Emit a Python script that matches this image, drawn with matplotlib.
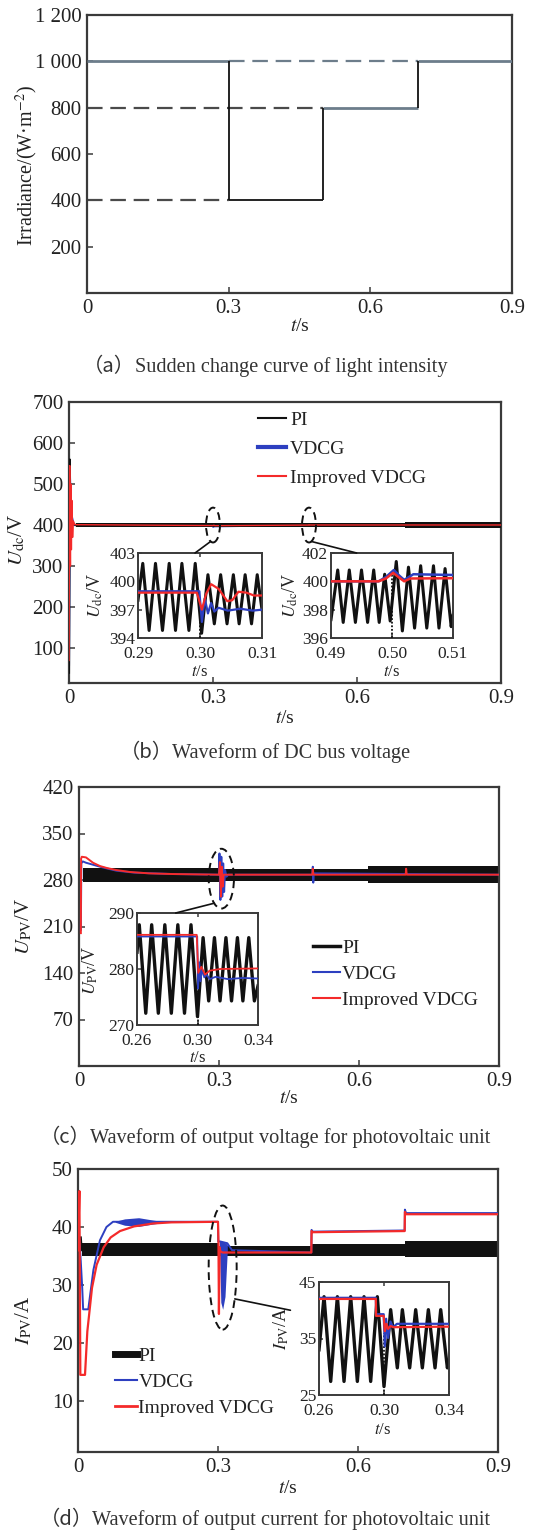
import matplotlib
matplotlib.use('Agg')
import matplotlib.pyplot as plt
from matplotlib.patches import Ellipse, ConnectionPatch
from matplotlib.lines import Line2D

plt.rcParams['font.family'] = ['Liberation Serif', 'Noto Sans CJK SC']
plt.rcParams['mathtext.fontset'] = 'stix'

# ---------------- data ----------------
# (a) irradiance steps
irr_times = [0.0, 0.3, 0.5, 0.7, 0.9]
irr_levels = [1000, 400, 800, 1000]
ref_levels = [1000, 800, 400]
ref_start = [0.3, 0.0, 0.0]
ref_end = [0.7, 0.5, 0.3]

# (b) DC bus voltage, main
b_pi_start_t = [0.0, 0.0015, 0.0025, 0.004, 0.006, 0.009, 0.014]
b_pi_start_v = [40, 560, 470, 430, 410, 403, 400]
b_pi_edges = [0.014, 0.6, 0.7, 0.9]
b_pi_lo = [395.5, 395.0, 393.0]
b_pi_hi = [404.5, 405.0, 407.0]
b_red_t = [0.0, 0.0015, 0.003, 0.004, 0.005, 0.006, 0.0075, 0.009, 0.012, 0.3, 0.3018, 0.304, 0.5, 0.5002, 0.503, 0.9]
b_red_v = [70, 545, 300, 500, 340, 460, 370, 410, 401, 398.8, 399.7, 398.5, 400.0, 400.6, 400.2, 400.2]
b_blue_t = [0.0, 0.002, 0.004, 0.006, 0.01, 0.3, 0.3003, 0.302, 0.5, 0.5003, 0.9]
b_blue_v = [60, 520, 380, 420, 400, 398.9, 395.7, 397.0, 400.0, 400.8, 400.45]

# (b) inset 1
b1_pi_t = [0.2900, 0.29077, 0.29179, 0.29282, 0.29395, 0.29503, 0.29605, 0.29708, 0.29821, 0.29923,
           0.30026, 0.30128, 0.30231, 0.30333, 0.30436, 0.30538, 0.30631, 0.30728, 0.30831, 0.30923, 0.3100]
b1_pi_v = [398.0, 401.9, 394.8, 401.9, 394.8, 401.9, 394.8, 401.9, 394.8, 401.9,
           394.5, 400.7, 395.5, 400.7, 395.5, 400.7, 395.5, 400.7, 395.5, 400.7, 397.0]
b1_red_t = [0.2900, 0.2995, 0.3003, 0.3010, 0.3018, 0.3030, 0.3044, 0.3052, 0.3062, 0.3075, 0.3087, 0.3100]
b1_red_v = [398.8, 398.8, 397.0, 398.7, 399.7, 399.2, 397.9, 398.0, 398.9, 398.8, 398.5, 398.5]
b1_blue_t = [0.2900, 0.2999, 0.3003, 0.30077, 0.30128, 0.30179, 0.30231, 0.3030, 0.3045, 0.3065, 0.3085, 0.3100]
b1_blue_v = [398.95, 398.95, 395.7, 398.2, 396.6, 397.7, 396.8, 397.2, 396.9, 397.1, 396.9, 397.0]

# (b) inset 2
b2_pi_t = [0.4900, 0.4911, 0.4920, 0.4930, 0.4940, 0.4950, 0.4960, 0.4970, 0.4979, 0.4988, 0.4997,
           0.5007, 0.5017, 0.5027, 0.5037, 0.5047, 0.5057, 0.5068, 0.5077, 0.5087, 0.5097, 0.5100]
b2_pi_v = [397.3, 400.8, 397.1, 400.8, 397.1, 400.8, 397.1, 400.8, 397.1, 400.5, 397.2,
           401.4, 396.5, 401.0, 396.7, 401.1, 396.7, 401.1, 396.7, 400.9, 396.8, 397.6]
b2_red_t = [0.49, 0.4978, 0.4990, 0.5002, 0.5012, 0.5020, 0.5030, 0.51]
b2_red_v = [400.0, 400.0, 400.2, 400.6, 400.25, 400.0, 400.2, 400.22]
b2_blue_t = [0.49, 0.4978, 0.4990, 0.5003, 0.5012, 0.5020, 0.5035, 0.51]
b2_blue_v = [400.0, 400.0, 400.3, 400.8, 400.4, 400.1, 400.5, 400.45]

# (c) PV voltage, main
c_pi_edges = [0.008, 0.3, 0.62, 0.9]
c_pi_lo = [277, 279, 275]
c_pi_hi = [298, 297, 301]
c_red_t = [0.004, 0.0045, 0.006, 0.015, 0.03, 0.045, 0.06, 0.08, 0.11, 0.15, 0.2, 0.3, 0.302, 0.304, 0.306,
           0.308, 0.31, 0.5, 0.501, 0.502, 0.503, 0.7, 0.701, 0.702, 0.703, 0.9]
c_red_v = [200, 312, 315, 314, 306, 301, 298, 295, 292, 290, 289, 288, 307, 255, 300,
           270, 288, 288, 297, 290, 288, 288, 297, 290, 288, 288]
c_blue_t = [0.004, 0.005, 0.008, 0.015, 0.03, 0.05, 0.08, 0.12, 0.2, 0.3, 0.301, 0.303, 0.305, 0.307, 0.309,
            0.311, 0.313, 0.316, 0.32, 0.5, 0.501, 0.502, 0.503, 0.9]
c_blue_v = [205, 305, 308, 306, 303, 299, 294, 291, 289, 288, 320, 250, 315, 255, 305,
            262, 295, 285, 288, 288, 300, 276, 290, 288]

# (c) inset
c1_pi_t = [0.2600, 0.2615, 0.2658, 0.2697, 0.2741, 0.2784, 0.2827, 0.2870, 0.2914, 0.2957, 0.3000,
           0.3037, 0.3074, 0.3112, 0.3149, 0.3188, 0.3225, 0.3264, 0.3300, 0.3339, 0.3376, 0.3400]
c1_pi_v = [283.0, 287.9, 272.1, 287.9, 272.1, 287.9, 272.1, 287.9, 272.1, 287.9, 271.5,
           285.6, 274.3, 285.6, 274.3, 285.6, 274.3, 285.6, 274.3, 285.6, 274.3, 277.0]
c1_red_t = [0.26, 0.2995, 0.3005, 0.3025, 0.3050, 0.3080, 0.3150, 0.34]
c1_red_v = [286.1, 286.1, 279.3, 280.4, 279.0, 279.7, 280.0, 280.1]
c1_blue_t = [0.26, 0.2998, 0.3004, 0.3012, 0.3020, 0.3030, 0.3045, 0.3060, 0.3080, 0.3120, 0.3200, 0.3300, 0.34]
c1_blue_v = [285.8, 285.8, 276.5, 281.2, 277.8, 280.0, 278.5, 279.0, 278.2, 278.6, 278.2, 278.4, 278.3]

# (d) PV current, main
d_pi_start_t = [0.006, 0.008]
d_pi_start_v = [38.2, 36.0]
d_pi_edges = [0.008, 0.3, 0.5, 0.7, 0.9]
d_pi_lo = [35.0, 35.0, 35.0, 34.9]
d_pi_hi = [37.2, 36.7, 37.0, 37.6]
d_red_t = [0.0, 0.003, 0.005, 0.015, 0.02, 0.03, 0.04, 0.055, 0.07, 0.09, 0.12, 0.16, 0.2, 0.3, 0.301,
           0.302, 0.3035, 0.305, 0.31, 0.5, 0.5005, 0.503, 0.7, 0.7005, 0.703, 0.9]
d_red_v = [36, 46.2, 14.5, 14.5, 22, 29.5, 33.5, 36.5, 38.2, 39.3, 40.1, 40.6, 40.8, 40.9, 37.5,
           25.0, 36.5, 35.8, 35.6, 35.6, 39.3, 39.1, 39.3, 42.6, 42.2, 42.2]
d_blue_t = [0.003, 0.006, 0.009, 0.011, 0.022, 0.033, 0.047, 0.061, 0.075, 0.3, 0.3005, 0.305, 0.32, 0.33,
            0.5, 0.5005, 0.503, 0.7, 0.7005, 0.703, 0.9]
d_blue_v = [38, 34, 29.6, 25.8, 25.8, 32.6, 37.7, 40.0, 40.9, 40.9, 37.5, 37.5, 37.2, 36.0,
            35.6, 39.5, 39.2, 39.4, 43.0, 42.4, 42.4]
d_blue_band1_t = [0.08, 0.10, 0.13, 0.16, 0.185]
d_blue_band1_lo = [40.8, 40.3, 40.1, 40.5, 40.8]
d_blue_band1_hi = [41.0, 41.4, 41.6, 41.2, 40.9]
d_blue_band2_t = [0.303, 0.306, 0.31, 0.315, 0.32]
d_blue_band2_lo = [37.0, 27.0, 25.8, 28.0, 36.0]
d_blue_band2_hi = [37.5, 37.5, 37.5, 37.3, 37.0]

# (d) inset
d1_pi_t = [0.2600, 0.2631, 0.2672, 0.2713, 0.2754, 0.2795, 0.2836, 0.2877, 0.2918, 0.2959, 0.3000,
           0.3041, 0.3082, 0.3113, 0.3158, 0.3195, 0.3236, 0.3273, 0.3314, 0.3349, 0.3390, 0.3400]
d1_pi_v = [33.0, 42.4, 27.4, 42.4, 27.4, 42.4, 27.4, 42.4, 27.4, 42.4, 26.5,
           40.1, 29.8, 40.1, 29.8, 40.1, 29.8, 40.1, 29.8, 40.1, 29.8, 31.0]
d1_red_t = [0.26, 0.2950, 0.2951, 0.2998, 0.3005, 0.3015, 0.3025, 0.3040, 0.3060, 0.34]
d1_red_v = [42.0, 42.0, 39.0, 39.0, 36.3, 37.6, 36.7, 37.2, 37.0, 37.1]
d1_blue_t = [0.26, 0.2950, 0.2951, 0.2998, 0.3005, 0.3013, 0.3025, 0.3040, 0.3055, 0.3080, 0.34]
d1_blue_v = [42.2, 42.2, 39.3, 39.3, 33.6, 38.5, 35.1, 38.0, 37.0, 37.6, 37.6]

caption_tags = ['（a）', '（b）', '（c）', '（d）']
caption_texts = ['Sudden change curve of light intensity',
                 'Waveform of DC bus voltage',
                 'Waveform of output voltage for photovoltaic unit',
                 'Waveform of output current for photovoltaic unit']
series_names = ['PI', 'VDCG', 'Improved VDCG']

# ---------------- style ----------------
BLUE = '#2d3fc0'
RED = '#f42a2a'
BLK = '#111111'
SPINE = '#3a3a3a'
TXT = '#222222'

W, H = 533, 1537
fig = plt.figure(figsize=(W / 100, H / 100), dpi=100)
renderer = fig.canvas.get_renderer()


def ax_px(l, t, r, b):
    return fig.add_axes([l / W, 1 - b / H, (r - l) / W, (b - t) / H])


def style(ax, size, lw=1.6, pad=4, length=4):
    for s in ax.spines.values():
        s.set_linewidth(lw)
        s.set_color(SPINE)
    ax.tick_params(direction='in', length=length, width=1.1, labelsize=size, pad=pad,
                   colors=SPINE, labelcolor=TXT, top=False, right=False)


def steps_fill(ax, edges, lo, hi, color, z):
    ax.fill_between(edges, lo + [lo[-1]], hi + [hi[-1]], step='post', color=color, lw=0, zorder=z)


def legend(ax, x, ytop, lws, hl, htp, ls):
    handles = [Line2D([], [], color=c, lw=w) for c, w in zip([BLK, BLUE, RED], lws)]
    ax.legend(handles, series_names, loc='upper left', bbox_to_anchor=(x / W, 1 - ytop / H),
              bbox_transform=fig.transFigure, frameon=False, fontsize=14, borderpad=0,
              borderaxespad=0, handlelength=hl, handletextpad=htp, labelspacing=ls,
              labelcolor=TXT)


def caption(y, tag, text, cx=265, size=14.6):
    t_tag = fig.text(0, 1 - y / H, tag, ha='left', va='center', fontsize=size, color='#333333',
                     family='Noto Sans CJK SC')
    t_body = fig.text(0, 1 - y / H, text, ha='left', va='center', fontsize=size, color='#333333',
                      family='Liberation Serif')
    w_tag = t_tag.get_window_extent(renderer).width
    w_body = t_body.get_window_extent(renderer).width
    x0 = cx - (w_tag + w_body) / 2
    t_tag.set_x(x0 / W)
    t_body.set_x((x0 + w_tag) / W)


# ---------------- (a) ----------------
axa = ax_px(87, 15, 512, 293)
style(axa, 15)
for i, lev in enumerate(irr_levels):
    col = '#6d7d8b' if lev >= 800 else BLK
    axa.hlines(lev, irr_times[i], irr_times[i + 1], color=col, lw=2.0 if lev >= 800 else 1.3, zorder=3)
for i in range(1, len(irr_levels)):
    axa.vlines(irr_times[i], min(irr_levels[i - 1], irr_levels[i]), max(irr_levels[i - 1], irr_levels[i]),
               color=BLK, lw=1.3, zorder=3)
for lev, s, e in zip(ref_levels, ref_start, ref_end):
    axa.hlines(lev, s, e, color='#6d7d8b' if lev == 1000 else '#4a4a4a', lw=1.6,
               linestyles=(0, (7, 3.5)), zorder=2)
axa.set_xlim(0, 0.9)
axa.set_ylim(0, 1200)
axa.set_xticks([0, 0.3, 0.6, 0.9], ['0', '0.3', '0.6', '0.9'])
axa.set_yticks([200, 400, 600, 800, 1000, 1200], ['200', '400', '600', '800', '1 000', '1 200'])
axa.set_ylabel('Irradiance/(W·m$^{-2}$)', fontsize=14.5, color=TXT)
axa.yaxis.set_label_coords(-0.11, 0.457)
axa.set_xlabel('$t$/s', fontsize=14, color=TXT)
axa.xaxis.set_label_coords(0.5, -0.09)
caption(367, caption_tags[0], caption_texts[0])

# ---------------- (b) ----------------
axb = ax_px(69, 402, 501, 683)
style(axb, 15)
axb.plot(b_blue_t, b_blue_v, color=BLUE, lw=1.5, zorder=2)
axb.plot(b_pi_start_t, b_pi_start_v, color=BLK, lw=1.5, zorder=3)
steps_fill(axb, b_pi_edges, b_pi_lo, b_pi_hi, BLK, 3)
axb.plot(b_red_t, b_red_v, color=RED, lw=1.0, zorder=4)
axb.set_xlim(0, 0.9)
axb.set_ylim(15, 700)
axb.set_xticks([0, 0.3, 0.6, 0.9], ['0', '0.3', '0.6', '0.9'])
axb.set_yticks([100, 200, 300, 400, 500, 600, 700])
axb.set_ylabel(r'$U_{\rm dc}$/V', fontsize=15, color=TXT)
axb.yaxis.set_label_coords(-0.097, 0.51)
axb.set_xlabel('$t$/s', fontsize=14, color=TXT)
axb.xaxis.set_label_coords(0.5, -0.096)
for tc in [0.3, 0.5]:
    axb.add_patch(Ellipse((tc, 400), 0.029, 85, fill=False, ls=(0, (4, 2.5)), lw=1.4, color=BLK, zorder=5))
legend(axb, 258, 411, [1.5, 3.0, 1.5], 1.45, 0.2, 0.6)
caption(753, caption_tags[1], caption_texts[1])

# inset b1
b1 = ax_px(138, 553, 262, 638)
style(b1, 12.5, lw=1.4, pad=2, length=3)
b1.plot(b1_pi_t, b1_pi_v, color=BLK, lw=2.2, zorder=2)
b1.vlines(0.30, 394, 396.5, color=BLK, lw=1.3, linestyles=(0, (1, 1)), zorder=3)
b1.plot(b1_blue_t, b1_blue_v, color=BLUE, lw=1.6, zorder=3)
b1.plot(b1_red_t, b1_red_v, color=RED, lw=1.6, zorder=4)
b1.set_xlim(0.29, 0.31)
b1.set_ylim(394, 403)
b1.set_xticks([0.29, 0.30, 0.31], ['0.29', '0.30', '0.31'])
b1.set_yticks([394, 397, 400, 403])
b1.tick_params(axis='x', pad=5.5, top=True)
b1.set_ylabel(r'$U_{\rm dc}$/V', fontsize=13, color=TXT)
b1.yaxis.set_label_coords(-0.266, 0.5)
b1.set_xlabel('$t$/s', fontsize=12, color=TXT)
b1.xaxis.set_label_coords(0.5, -0.31)

# inset b2
b2 = ax_px(331, 553, 453, 638)
style(b2, 12.5, lw=1.4, pad=2, length=3)
b2.plot(b2_pi_t, b2_pi_v, color=BLK, lw=2.2, zorder=2)
b2.vlines(0.50, 396, 400.5, color=BLK, lw=1.3, linestyles=(0, (1, 1)), zorder=3)
b2.plot(b2_blue_t, b2_blue_v, color=BLUE, lw=1.8, zorder=3)
b2.plot(b2_red_t, b2_red_v, color=RED, lw=1.8, zorder=4)
b2.set_xlim(0.49, 0.51)
b2.set_ylim(396, 402)
b2.set_xticks([0.49, 0.50, 0.51], ['0.49', '0.50', '0.51'])
b2.set_yticks([396, 398, 400, 402])
b2.tick_params(axis='x', pad=5.5)
b2.set_ylabel(r'$U_{\rm dc}$/V', fontsize=13, color=TXT)
b2.yaxis.set_label_coords(-0.254, 0.5)
b2.set_xlabel('$t$/s', fontsize=12, color=TXT)
b2.xaxis.set_label_coords(0.5, -0.31)

fig.add_artist(ConnectionPatch(xyA=(0.295, 360), coordsA=axb.transData, xyB=(0.46, 1.0),
                               coordsB=b1.transAxes, color=BLK, lw=1.2))
fig.add_artist(ConnectionPatch(xyA=(0.505, 360), coordsA=axb.transData, xyB=(0.21, 1.0),
                               coordsB=b2.transAxes, color=BLK, lw=1.2))

# ---------------- (c) ----------------
axc = ax_px(79, 787, 499, 1066)
style(axc, 15)
steps_fill(axc, c_pi_edges, c_pi_lo, c_pi_hi, BLK, 2)
axc.plot(c_blue_t, c_blue_v, color=BLUE, lw=1.4, zorder=3)
axc.plot(c_red_t, c_red_v, color=RED, lw=1.4, zorder=4)
axc.set_xlim(0, 0.9)
axc.set_ylim(0, 420)
axc.set_xticks([0, 0.3, 0.6, 0.9], ['0', '0.3', '0.6', '0.9'])
axc.set_yticks([70, 140, 210, 280, 350, 420])
axc.set_ylabel(r'$U_{\rm PV}$/V', fontsize=15, color=TXT)
axc.yaxis.set_label_coords(-0.107, 0.50)
axc.set_xlabel('$t$/s', fontsize=14, color=TXT)
axc.xaxis.set_label_coords(0.5, -0.086)
axc.add_patch(Ellipse((0.305, 282), 0.054, 90, fill=False, ls=(0, (4, 2.5)), lw=1.4, color=BLK, zorder=5))
legend(axc, 313, 939, [2.5, 1.5, 1.5], 1.4, 0.1, 0.44)
caption(1138, caption_tags[2], caption_texts[2])

c1 = ax_px(137, 913, 258, 1025)
style(c1, 12.5, lw=1.4, pad=2, length=3)
c1.plot(c1_pi_t, c1_pi_v, color=BLK, lw=2.4, zorder=2)
c1.vlines(0.30, 270, 277, color=BLK, lw=1.3, linestyles=(0, (1, 1)), zorder=3)
c1.plot(c1_blue_t, c1_blue_v, color=BLUE, lw=1.3, zorder=3)
c1.plot(c1_red_t, c1_red_v, color=RED, lw=1.3, zorder=4)
c1.set_xlim(0.26, 0.34)
c1.set_ylim(270, 290)
c1.set_xticks([0.26, 0.30, 0.34], ['0.26', '0.30', '0.34'])
c1.set_yticks([270, 280, 290])
c1.tick_params(axis='x', pad=6, top=True)
c1.set_ylabel(r'$U_{\rm PV}$/V', fontsize=13, color=TXT)
c1.yaxis.set_label_coords(-0.306, 0.49)
c1.set_xlabel('$t$/s', fontsize=12, color=TXT)
c1.xaxis.set_label_coords(0.5, -0.225)
fig.add_artist(ConnectionPatch(xyA=(0.2895, 245), coordsA=axc.transData, xyB=(0.32, 1.0),
                               coordsB=c1.transAxes, color=BLK, lw=1.2))

# ---------------- (d) ----------------
axd = ax_px(78, 1169, 498, 1452)
style(axd, 15)
axd.plot(d_pi_start_t, d_pi_start_v, color=BLK, lw=1.5, zorder=2)
steps_fill(axd, d_pi_edges, d_pi_lo, d_pi_hi, BLK, 2)
axd.fill_between(d_blue_band1_t, d_blue_band1_lo, d_blue_band1_hi, color=BLUE, lw=0, zorder=3)
axd.fill_between(d_blue_band2_t, d_blue_band2_lo, d_blue_band2_hi, color=BLUE, lw=0, zorder=3)
axd.plot(d_blue_t, d_blue_v, color=BLUE, lw=1.4, zorder=3)
axd.plot(d_red_t, d_red_v, color=RED, lw=1.6, zorder=4)
axd.set_xlim(0, 0.9)
axd.set_ylim(1.2, 50)
axd.set_xticks([0, 0.3, 0.6, 0.9], ['0', '0.3', '0.6', '0.9'])
axd.set_yticks([10, 20, 30, 40, 50])
axd.set_ylabel(r'$I_{\rm PV}$/A', fontsize=15, color=TXT)
axd.yaxis.set_label_coords(-0.105, 0.466)
axd.set_xlabel('$t$/s', fontsize=14, color=TXT)
axd.xaxis.set_label_coords(0.5, -0.099)
axd.add_patch(Ellipse((0.31, 33), 0.06, 21.4, fill=False, ls=(0, (4, 2.5)), lw=1.4, color=BLK, zorder=5))
legend(axd, 115, 1347, [5.0, 1.5, 2.0], 1.15, 0.05, 0.44)
caption(1520, caption_tags[3], caption_texts[3])

d1 = ax_px(319, 1282, 449, 1395)
style(d1, 12.5, lw=1.4, pad=2, length=3)
d1.plot(d1_pi_t, d1_pi_v, color=BLK, lw=2.4, zorder=2)
d1.vlines(0.30, 25, 36, color=BLK, lw=1.3, linestyles=(0, (1, 1)), zorder=3)
d1.plot(d1_blue_t, d1_blue_v, color=BLUE, lw=1.6, zorder=3)
d1.plot(d1_red_t, d1_red_v, color=RED, lw=1.6, zorder=4)
d1.set_xlim(0.26, 0.34)
d1.set_ylim(25, 45)
d1.set_xticks([0.26, 0.30, 0.34], ['0.26', '0.30', '0.34'])
d1.set_yticks([25, 35, 45])
d1.tick_params(axis='x', pad=6, top=True)
d1.set_ylabel(r'$I_{\rm PV}$/A', fontsize=13, color=TXT)
d1.yaxis.set_label_coords(-0.215, 0.59)
d1.set_xlabel('$t$/s', fontsize=12, color=TXT)
d1.xaxis.set_label_coords(0.49, -0.24)
fig.add_artist(ConnectionPatch(xyA=(0.336, 27.6), coordsA=axd.transData, xyB=(-0.22, 0.75),
                               coordsB=d1.transAxes, color=BLK, lw=1.2))

fig.savefig('out.png', dpi=100)
